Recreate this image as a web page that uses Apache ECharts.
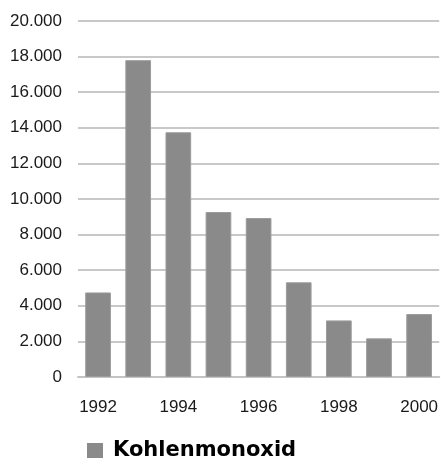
<!DOCTYPE html>
<html>
<head>
<meta charset="utf-8">
<script src="https://cdn.jsdelivr.net/npm/echarts@6/dist/echarts.min.js"></script>
<style>
  html, body { margin: 0; padding: 0; background: #fff; }
  #main { width: 441px; height: 464px; }
</style>
</head>
<body>
<div id="main"></div>
<script>
var years = ['1992', '1993', '1994', '1995', '1996', '1997', '1998', '1999', '2000'];
var kohlenmonoxid = [4750, 17800, 13750, 9270, 8930, 5320, 3180, 2170, 3540];
var seriesName = 'Kohlenmonoxid';

// Tausenderpunkt wie im Original: 20.000
function fmt(v) {
  return String(v).replace(/\B(?=(\d{3})+(?!\d))/g, '.');
}

var chart = echarts.init(document.getElementById('main'));
chart.setOption({
  animation: false,
  grid: { left: 78, right: 1, top: 21, bottom: 87 },
  legend: {
    left: 87, top: 440, padding: 0,
    itemWidth: 16, itemHeight: 15,
    icon: 'rect',
    itemStyle: { borderWidth: 0 },
    textStyle: {
      fontFamily: 'DejaVu Sans', fontWeight: 'bold', fontSize: 21, color: '#000',
      padding: [0, 0, 0, 5]
    },
    data: [seriesName]
  },
  xAxis: {
    type: 'category',
    data: years,
    axisLine: { lineStyle: { color: '#c4c4c4', width: 2 } },
    axisTick: { show: false },
    axisLabel: {
      interval: 1, margin: 22,
      fontFamily: 'Liberation Sans', fontSize: 17, color: '#1a1a1a'
    }
  },
  yAxis: {
    type: 'value',
    min: 0, max: 20000, interval: 2000,
    axisLine: { show: false },
    axisTick: { show: false },
    splitLine: { lineStyle: { color: '#c8c8c8', width: 2 } },
    axisLabel: {
      margin: 16, formatter: fmt,
      fontFamily: 'Liberation Sans', fontSize: 17, color: '#1a1a1a'
    }
  },
  series: [{
    name: seriesName,
    type: 'bar',
    data: kohlenmonoxid,
    barWidth: '64%',
    itemStyle: { color: '#8a8a8a', borderColor: '#9c9c9c', borderWidth: 1 }
  }]
});
</script>
</body>
</html>
